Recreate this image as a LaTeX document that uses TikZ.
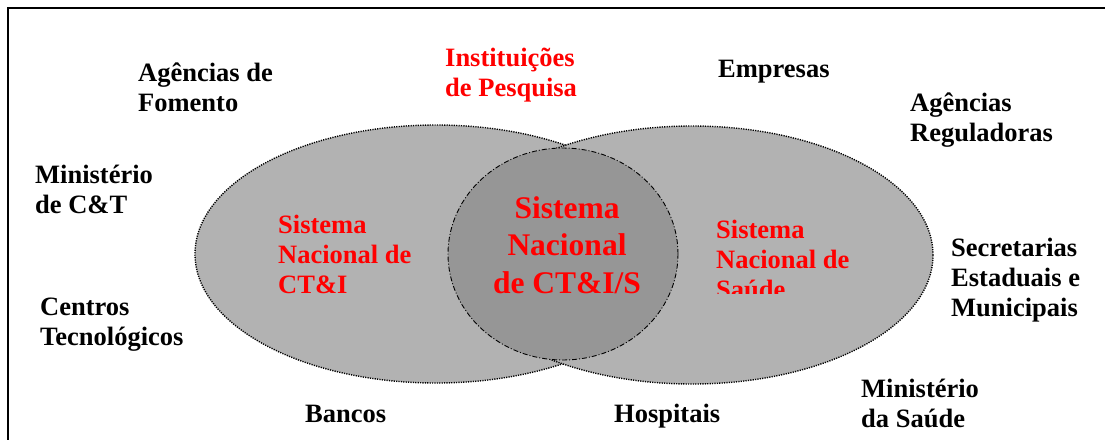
\documentclass[tikz,border=0pt]{standalone}
\usepackage{fontspec}
\setmainfont{Liberation Serif}
\usetikzlibrary{shapes.geometric}
\definecolor{lightg}{RGB}{178,178,178}
\definecolor{darkg}{RGB}{150,150,150}
\tikzset{
  lbl/.style={inner sep=0pt, anchor=base west, align=left, font=\bfseries\fontsize{26.5}{30}\selectfont},
  redlbl/.style={lbl, text=red},
  bigred/.style={inner sep=0pt, anchor=base, align=center, text=red, font=\bfseries\fontsize{31.5}{37.5}\selectfont},
  sysell/.style={ellipse, draw=black, fill=lightg, line width=1.4pt, dash pattern=on 1.2pt off 1.2pt, minimum width=482pt, minimum height=258pt, inner sep=0pt},
  core/.style={ellipse, draw=black, fill=darkg, line width=0.9pt, dash pattern=on 5pt off 2pt on 1pt off 2pt, minimum width=230pt, minimum height=212pt, inner sep=0pt},
  frame/.style={draw=black, line width=2pt}
}
\begin{document}
\begin{tikzpicture}[x=1pt,y=-1pt]
\useasboundingbox (0,0) rectangle (1105,439);
\clip (0,0) rectangle (1105,439);
\fill[white] (0,0) rectangle (1105,439);
\draw[frame] (8,8) rectangle (1120,460);
% ellipses
\node[sysell] (ctl) at (436,254) {};
\node[sysell] (sau) at (692,255) {};
\node[core] (cts) at (563,254) {};
% outer labels (multi-line nodes: base = last line)
\node[lbl] (agf) at (138,111) {Agências de\\Fomento};
\node[redlbl] (inst) at (445,96) {Instituições\\de Pesquisa};
\node[lbl] (emp) at (718,77) {Empresas};
\node[lbl] (agr) at (910,141) {Agências\\Reguladoras};
\node[lbl] (mct) at (35,213) {Ministério\\de C\&T};
\node[lbl] (cen) at (40,345) {Centros\\Tecnológicos};
\node[lbl] (sec) at (951,316) {Secretarias\\Estaduais e\\Municipais};
\node[lbl] (ban) at (305,422) {Bancos};
\node[lbl] (hos) at (614,422) {Hospitais};
\node[lbl] (msa) at (861,427) {Ministério\\da Saúde};
% inner labels
\node[redlbl] (sctl) at (278,293) {Sistema\\Nacional de\\CT\&I};
\begin{scope}
\clip (700,180) rectangle (900,293);
\node[redlbl] (ssau) at (716,298) {Sistema\\Nacional de\\Saúde};
\end{scope}
\node[bigred] (scts) at (567,293) {Sistema\\Nacional\\de CT\&I/S};
\end{tikzpicture}
\end{document}
